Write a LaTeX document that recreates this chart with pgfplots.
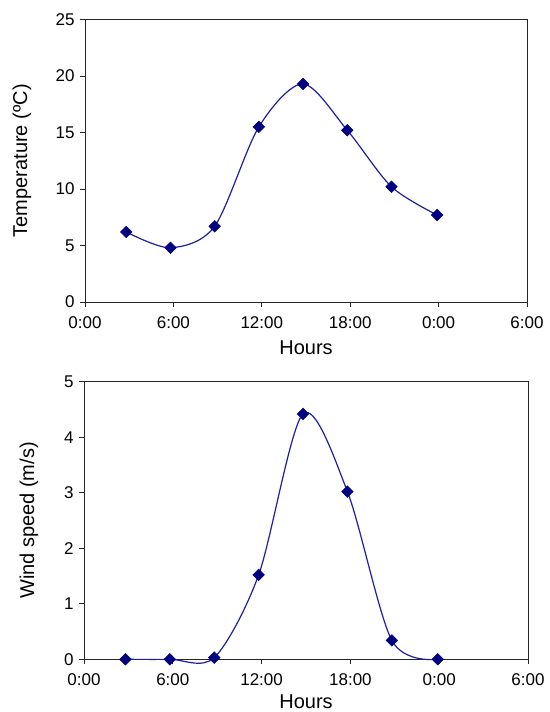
\documentclass[border=0pt]{standalone}
\usepackage{pgfplots}
\pgfplotsset{compat=1.18}
\usepackage{fontspec}
\setmainfont{Liberation Sans}
\definecolor{mk}{RGB}{0,0,128}
\definecolor{ln}{RGB}{30,30,160}
\pgfplotstableread{
x y
2.8 6.2
5.8 4.8
8.8 6.7
11.8 15.5
14.8 19.3
17.8 15.2
20.8 10.2
23.9 7.7
}\temp
\pgfplotstableread{
x y
2.8 0
5.8 0
8.8 0.03
11.8 1.52
14.8 4.42
17.8 3.02
20.8 0.34
23.9 0
}\wind
\pgfplotsset{
  common/.style={
    scale only axis,
    width=442bp,
    xmin=0, xmax=30,
    xtick={0,6,12,18,24,30},
    xticklabels={0:00,6:00,12:00,18:00,0:00,6:00},
    tick align=outside,
    xtick pos=bottom, ytick pos=left,
    major tick length=5bp,
    axis line style={black!85, line width=0.9bp},
    every tick/.style={black!85, line width=0.9bp},
    tick label style={font=\fontsize{17bp}{20bp}\selectfont},
    xticklabel style={yshift=-6bp},
    yticklabel style={xshift=-2bp},
    label style={font=\fontsize{20bp}{24bp}\selectfont},
    /pgf/number format/assume math mode=true,
    clip=false,
    xlabel={Hours},
  },
  ser/.style={color=ln, line width=1.2bp, smooth, tension=0.5,
    mark=square*, mark size=4.1bp,
    mark options={rotate=45, fill=mk, draw=mk, line width=0.5bp}},
}
\begin{document}
\begin{tikzpicture}
\path[use as bounding box] (0,0) rectangle (550bp,712bp);
\begin{axis}[common,
  at={(85bp,410bp)}, anchor=south west,
  height=282.5bp,
  ymin=0, ymax=25, ytick={0,5,...,25},
  ylabel={Temperature (ºC)},
  ylabel style={at={(axis description cs:-0.1425,0.5)}, anchor=center},
  xlabel style={at={(axis description cs:0.5,-0.163)}, anchor=center},
]
\addplot[ser] table[x=x,y=y] {\temp};
\end{axis}
\begin{axis}[common,
  at={(84bp,52.7bp)}, anchor=south west,
  width=444bp,
  height=277.6bp,
  ymin=0, ymax=5, ytick={0,1,...,5},
  ylabel={Wind speed (m/s)},
  ylabel style={at={(axis description cs:-0.124,0.5)}, anchor=center},
  xlabel style={at={(axis description cs:0.5,-0.152)}, anchor=center},
]
\addplot[ser] table[x=x,y=y] {\wind};
\end{axis}
\end{tikzpicture}
\end{document}
